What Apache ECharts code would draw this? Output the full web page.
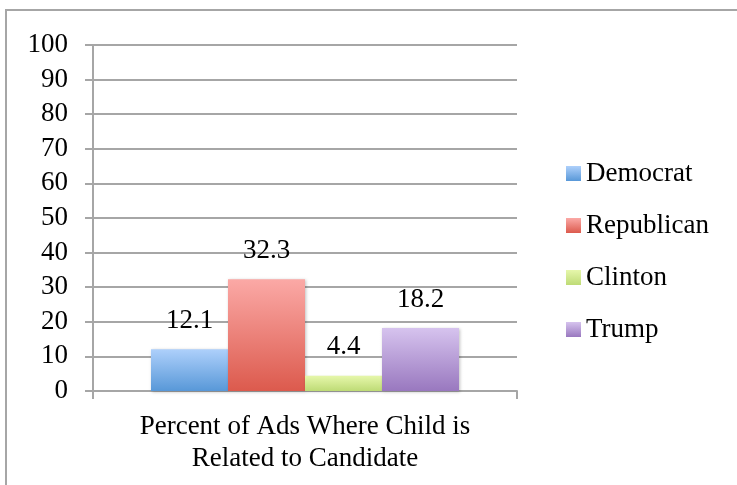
<!DOCTYPE html>
<html>
<head>
<meta charset="utf-8">
<script src="https://cdn.jsdelivr.net/npm/echarts@6/dist/echarts.min.js"></script>
<style>
  html, body { margin: 0; padding: 0; background: #fff; }
  #chart { width: 737px; height: 485px; }
</style>
</head>
<body>
<div id="chart"></div>
<script>
const categories = ['Percent of Ads Where Child is\nRelated to Candidate']
const seriesNames = ['Democrat', 'Republican', 'Clinton', 'Trump']
const seriesValues = [12.1, 32.3, 4.4, 18.2]
const yTicks = [0, 100, 10] // min, max, interval

// top / bottom colours of each bar gradient
const gradients = [
  ['#aed0fb', '#5898d8'],
  ['#fba9a6', '#dc5a4d'],
  ['#e6f7ab', '#bedb76'],
  ['#d6c3ee', '#9978bf']
]

const font = 'Liberation Serif'
const fs = 27
const chart = echarts.init(document.getElementById('chart'))

chart.setOption({
  animation: false,
  backgroundColor: '#fff',
  textStyle: { fontFamily: font },
  graphic: [{
    type: 'polyline',
    shape: { points: [[6, 500], [6, 10], [760, 10]] },
    style: { fill: 'none', stroke: '#a6a6a6', lineWidth: 2 }
  }],
  legend: {
    orient: 'vertical',
    left: 566,
    top: 160,
    padding: 0,
    itemWidth: 15,
    itemHeight: 15,
    itemGap: 25,
    icon: 'rect',
    textStyle: { fontFamily: font, fontSize: fs, lineHeight: 27, color: '#000' },
    data: seriesNames
  },
  grid: {
    left: 93,
    right: 220,
    top: 45,
    bottom: 94
  },
  xAxis: {
    type: 'category',
    data: categories,
    axisLine: { lineStyle: { color: '#a6a6a6', width: 2 } },
    axisTick: { show: true, length: 8, lineStyle: { color: '#a6a6a6', width: 2 } },
    axisLabel: {
      fontFamily: font,
      fontSize: fs,
      lineHeight: 32,
      color: '#000',
      margin: 20
    }
  },
  yAxis: {
    type: 'value',
    min: yTicks[0],
    max: yTicks[1],
    interval: yTicks[2],
    axisLine: { show: true, lineStyle: { color: '#a6a6a6', width: 2 } },
    axisTick: { show: true, length: 8, lineStyle: { color: '#a6a6a6', width: 2 } },
    splitLine: { lineStyle: { color: '#a6a6a6', width: 2 } },
    axisLabel: {
      fontFamily: font,
      fontSize: fs,
      color: '#000',
      margin: 25
    }
  },
  series: seriesNames.map((name, i) => {
    return {
      name: name,
      type: 'bar',
      data: [seriesValues[i]],
      barWidth: 77,
      barGap: '0%',
      itemStyle: {
        color: new echarts.graphic.LinearGradient(0, 0, 0, 1, [
          { offset: 0, color: gradients[i][0] },
          { offset: 1, color: gradients[i][1] }
        ]),
        shadowColor: 'rgba(0,0,0,0.25)',
        shadowBlur: 3,
        shadowOffsetX: 1,
        shadowOffsetY: 1
      },
      label: {
        show: true,
        position: 'top',
        distance: 15,
        fontFamily: font,
        fontSize: fs,
        color: '#000'
      }
    }
  })
})

window.addEventListener('resize', () => { chart.resize() })
</script>
</body>
</html>
